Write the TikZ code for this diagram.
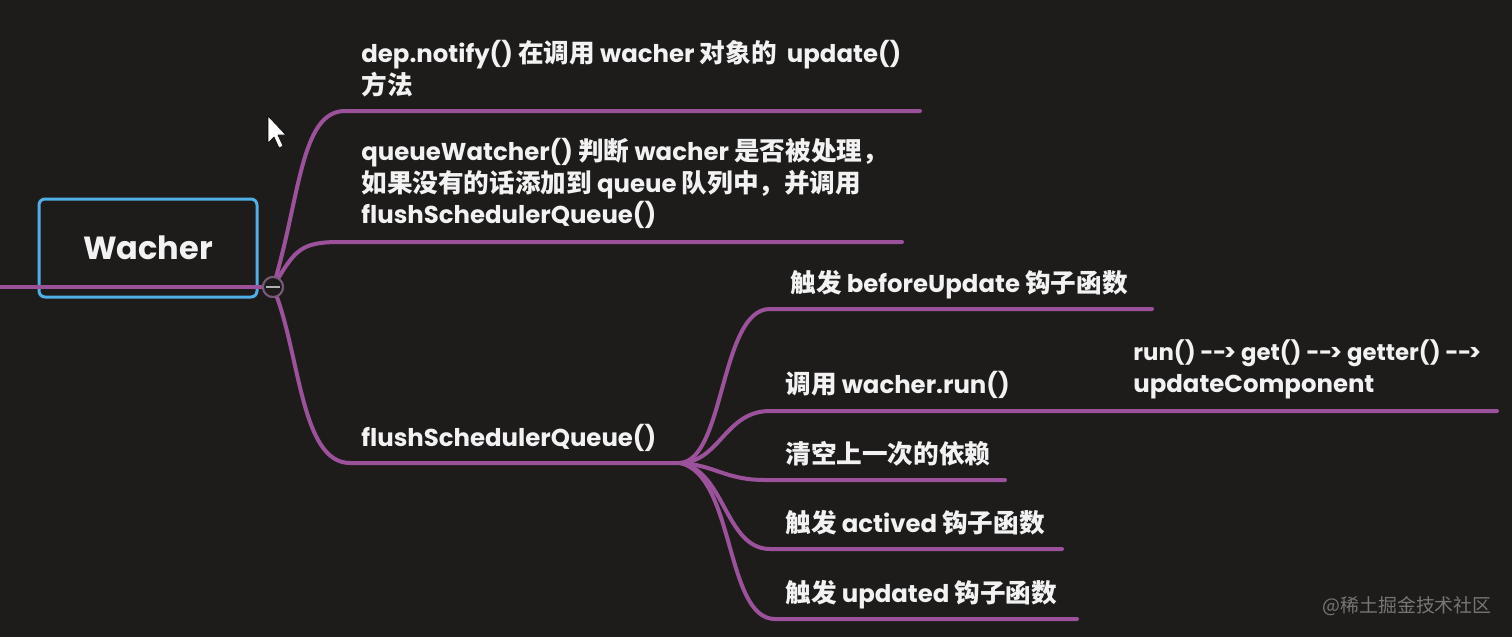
\documentclass[tikz,border=0pt]{standalone}
\usepackage{fontspec}
\setmainfont{Poppins}
\newfontfamily\cjk{Noto Sans CJK SC}[Scale=1.05]
\newcommand\zh[1]{{\cjk #1}}
\newcommand\mylines[1]{\begin{tabular}[t]{@{}l@{}}#1\end{tabular}}
\newcommand\arr{-\kern-0.3pt-\kern-1.2pt>}
\definecolor{bg}{RGB}{30,28,27}
\definecolor{branch}{RGB}{155,82,155}
\definecolor{boxblue}{RGB}{80,175,230}
\definecolor{txt}{RGB}{242,242,242}
\definecolor{wmark}{RGB}{120,118,116}
\definecolor{toggleedge}{RGB}{120,90,120}
\begin{document}
\begin{tikzpicture}[x=0.5pt,y=-0.5pt,
  branchline/.style={draw=branch, line width=2pt, line cap=round},
  lbl/.style={text=txt, font=\bfseries\fontsize{12.2}{16}\selectfont, inner sep=0pt, anchor=base west},
  rootbox/.style={draw=boxblue, line width=1.5pt, rounded corners=3pt, fill=bg, minimum width=109pt, minimum height=49pt, text=txt, font=\bfseries\fontsize{16}{18}\selectfont},
  togglebtn/.style={circle, draw=toggleedge, line width=1pt, fill=bg, minimum size=10pt, inner sep=0pt}]
\useasboundingbox (0,0) rectangle (1512,637);
\fill[bg] (0,0) rectangle (1512,637);

% coordinates
\coordinate (left) at (0,287);
\coordinate (hub) at (680,463);
\coordinate (b1s) at (345,111); \coordinate (b1e) at (920,111);
\coordinate (b2s) at (340,242); \coordinate (b2e) at (902,242);
\coordinate (b3s) at (350,463);
\coordinate (c1s) at (770,309); \coordinate (c1e) at (1152,309);
\coordinate (c2s) at (770,411); \coordinate (c2e) at (1497,411);
\coordinate (c3s) at (765,480); \coordinate (c3e) at (1005,480);
\coordinate (c4s) at (770,549); \coordinate (c4e) at (1062,549);
\coordinate (c5s) at (775,619); \coordinate (c5e) at (1077,619);

% root box
\node[rootbox] (root) at (148,248) {Wacher};
\node[togglebtn] (toggle) at (273,287) {};

% branches
\draw[branchline] (left) -- (toggle.center);
\draw[branchline] (toggle.center) .. controls (300,200) and (300,111) .. (b1s) -- (b1e);
\draw[branchline] (toggle.center) .. controls (295,250) and (300,242) .. (b2s) -- (b2e);
\draw[branchline] (toggle.center) .. controls (300,350) and (300,463) .. (b3s) -- (hub);
\draw[branchline] (hub) .. controls (725,460) and (720,309) .. (c1s) -- (c1e);
\draw[branchline] (hub) .. controls (720,462) and (725,411) .. (c2s) -- (c2e);
\draw[branchline] (hub) .. controls (715,465) and (725,480) .. (c3s) -- (c3e);
\draw[branchline] (hub) .. controls (725,470) and (725,549) .. (c4s) -- (c4e);
\draw[branchline] (hub) .. controls (735,475) and (725,619) .. (c5s) -- (c5e);

% toggle on top
\node[togglebtn] (toggle2) at (toggle) {};
\draw[txt!70!bg, line width=1pt] ([xshift=-3.5pt]toggle2.center) -- ([xshift=3.5pt]toggle2.center);

% labels
\node[lbl] (n1) at (361,62) {\mylines{dep.notify() \zh{在调用} wacher \zh{对象的}\ \ update()\\ \zh{方法}}};
\node[lbl] (n2) at (361,160) {\mylines{queueWatcher() \zh{判断} wacher \zh{是否被处理，}\\ \zh{如果没有的话添加到} queue \zh{队列中，并调用}\\ flushSchedulerQueue()}};
\node[lbl] (n3) at (361,446) {flushSchedulerQueue()};
\node[lbl] (s1) at (790,292) {\zh{触发} beforeUpdate \zh{钩子函数}};
\node[lbl] (s2) at (785,393) {\zh{调用} wacher.run()};
\node[lbl] (s3) at (1133,360) {\mylines{{\fontsize{11.4}{16}\selectfont run() \arr{} get() \arr{} getter() \arr}\\ updateComponent}};
\node[lbl] (s4) at (785,463) {\zh{清空上一次的依赖}};
\node[lbl] (s5) at (785,532) {\zh{触发} actived \zh{钩子函数}};
\node[lbl] (s6) at (785,602) {\zh{触发} updated \zh{钩子函数}};

% watermark
\node[text=wmark, font=\cjk\fontsize{9}{10}\selectfont, inner sep=0pt, anchor=base east] (wm) at (1492,612) {@稀土掘金技术社区};

% mouse cursor
\draw[fill=white, draw=black, line width=0.3pt, line join=round]
  (268,116) -- (268,143) -- (274,137) -- (279,148) -- (283,146) -- (278,135) -- (286,135) -- cycle;
\end{tikzpicture}
\end{document}
